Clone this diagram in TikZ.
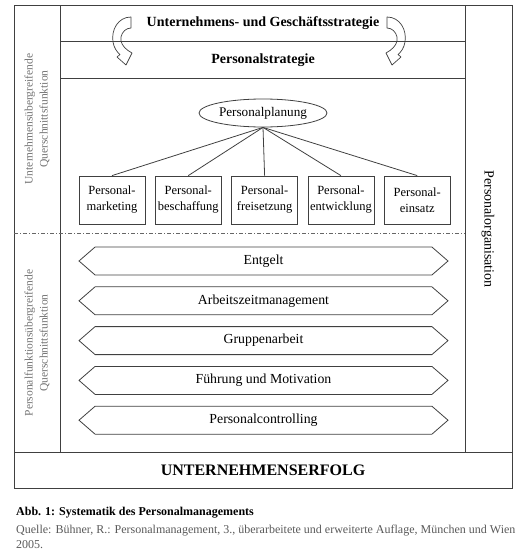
\documentclass[tikz,border=0pt]{standalone}
\usepackage{fontspec}
\setmainfont{Liberation Serif}
\usetikzlibrary{shapes.geometric,shapes.symbols,positioning}

\begin{document}
\begin{tikzpicture}[x=1pt, y=-1pt, node distance=9.5pt,
frame/.style = {draw=black!75, line width=0.8pt},
fblock/.style = {draw=black!75, line width=0.8pt, rectangle, minimum height=48pt, minimum width=66pt, inner sep=1pt, align=center, font=\fontsize{12.5}{16}\selectfont},
eblock/.style = {draw=black!75, line width=0.8pt, ellipse, minimum height=28pt, minimum width=128pt, inner sep=0pt, font=\fontsize{13.2}{15}\selectfont},
pblock/.style = {draw=black!75, line width=0.8pt, signal, signal to=east and west, signal pointer angle=82, minimum width=369pt, minimum height=28pt, inner sep=0pt, font=\fontsize{13.8}{16}\selectfont},
title/.style = {font=\bfseries\fontsize{14}{16}\selectfont},
side/.style = {align=center, text=black!55, font=\fontsize{11.5}{15}\selectfont},
turn/.style = {draw=black!75, line width=0.7pt, line join=round},
                    ]
    \useasboundingbox (0,0) rectangle (519,554);
    % outer frame and columns
    \draw[frame] (14,5) rectangle (512,488);
    \draw[frame] (60,5) -- (60,452);
    \draw[frame] (465,5) -- (465,452);
    \draw[frame] (14,452) -- (512,452);
    \draw[frame] (60,41) -- (465,41);
    \draw[frame] (60,78) -- (465,78);
    \draw[draw=black!60, line width=0.6pt, dash pattern=on 4pt off 2pt on 1pt off 2pt] (14,233) -- (465,233);

    \node [title] (corp) at (263,23) {Unternehmens- und Gesch\"aftsstrategie};
    \node [title] (hrstrat) at (263,60) {Personalstrategie};
    % curved arrows
    \draw[turn] (131,17) .. controls (118,17) and (111,30) .. (113,42) .. controls (114,48) and (117,52) .. (120,54.5) -- (117,57) -- (126,65) -- (132,53) -- (128,50.5) .. controls (123,47) and (120,42) .. (121,37) .. controls (122,32) and (126,28) .. (131,28) -- cycle;
    \draw[turn] (387,17) .. controls (400,17) and (407,30) .. (405,42) .. controls (404,48) and (401,52) .. (398,54.5) -- (401,57) -- (392,65) -- (386,53) -- (390,50.5) .. controls (395,47) and (398,42) .. (397,37) .. controls (396,32) and (392,28) .. (387,28) -- cycle;

    \node [eblock] (plan) at (263,113) {Personalplanung};
    \node [fblock] (marketing) at (112,200) {Personal-\\marketing};
    \node [fblock, right=of marketing] (procure) {Personal-\\beschaffung};
    \node [fblock, right=of procure] (release) {Personal-\\freisetzung};
    \node [fblock, right=of release] (develop) {Personal-\\entwicklung};
    \node [fblock, right=of develop] (deploy) {Personal-\\einsatz};
    \path[draw=black!75, line width=0.8pt]
                   (plan.south)  edge (marketing.north)
                   (plan.south)  edge (procure.north)
                   (plan.south)  edge (release.north)
                   (plan.south)  edge (develop.north)
                   (plan.south)  edge (deploy.north)
                    ;

    \node [pblock] (pay) at (263.5,261) {Entgelt};
    \node [pblock, below=11pt of pay] (worktime) {Arbeitszeitmanagement};
    \node [pblock, below=11pt of worktime] (group) {Gruppenarbeit};
    \node [pblock, below=11pt of group] (lead) {F\"uhrung und Motivation};
    \node [pblock, below=11pt of lead] (control) {Personalcontrolling};

    \node [side, rotate=90] (crosscorp) at (37,119) {Unternehmens\"ubergreifende\\Querschnittsfunktion};
    \node [side, rotate=90] (crosshr) at (37,343) {Personalfunktions\"ubergreifende\\Querschnittsfunktion};
    \node [rotate=-90, font=\fontsize{14}{16}\selectfont] (org) at (488,229) {Personalorganisation};
    \node [font=\bfseries\fontsize{16}{18}\selectfont] (success) at (263,470) {UNTERNEHMENSERFOLG};

    \node [anchor=west, inner sep=0pt, font=\bfseries\fontsize{12}{14}\selectfont] (caption) at (16,513) {Abb. 1: Systematik des Personalmanagements};
    \node [anchor=west, inner sep=0pt, text=black!65, font=\fontsize{12}{14}\selectfont] (source) at (16,531) {Quelle: B\"uhner, R.: Personalmanagement, 3., \"uberarbeitete und erweiterte Auflage, M\"unchen und Wien};
    \node [anchor=west, inner sep=0pt, text=black!65, font=\fontsize{12}{14}\selectfont] (year) at (16,545) {2005.};
\end{tikzpicture}
\end{document}
